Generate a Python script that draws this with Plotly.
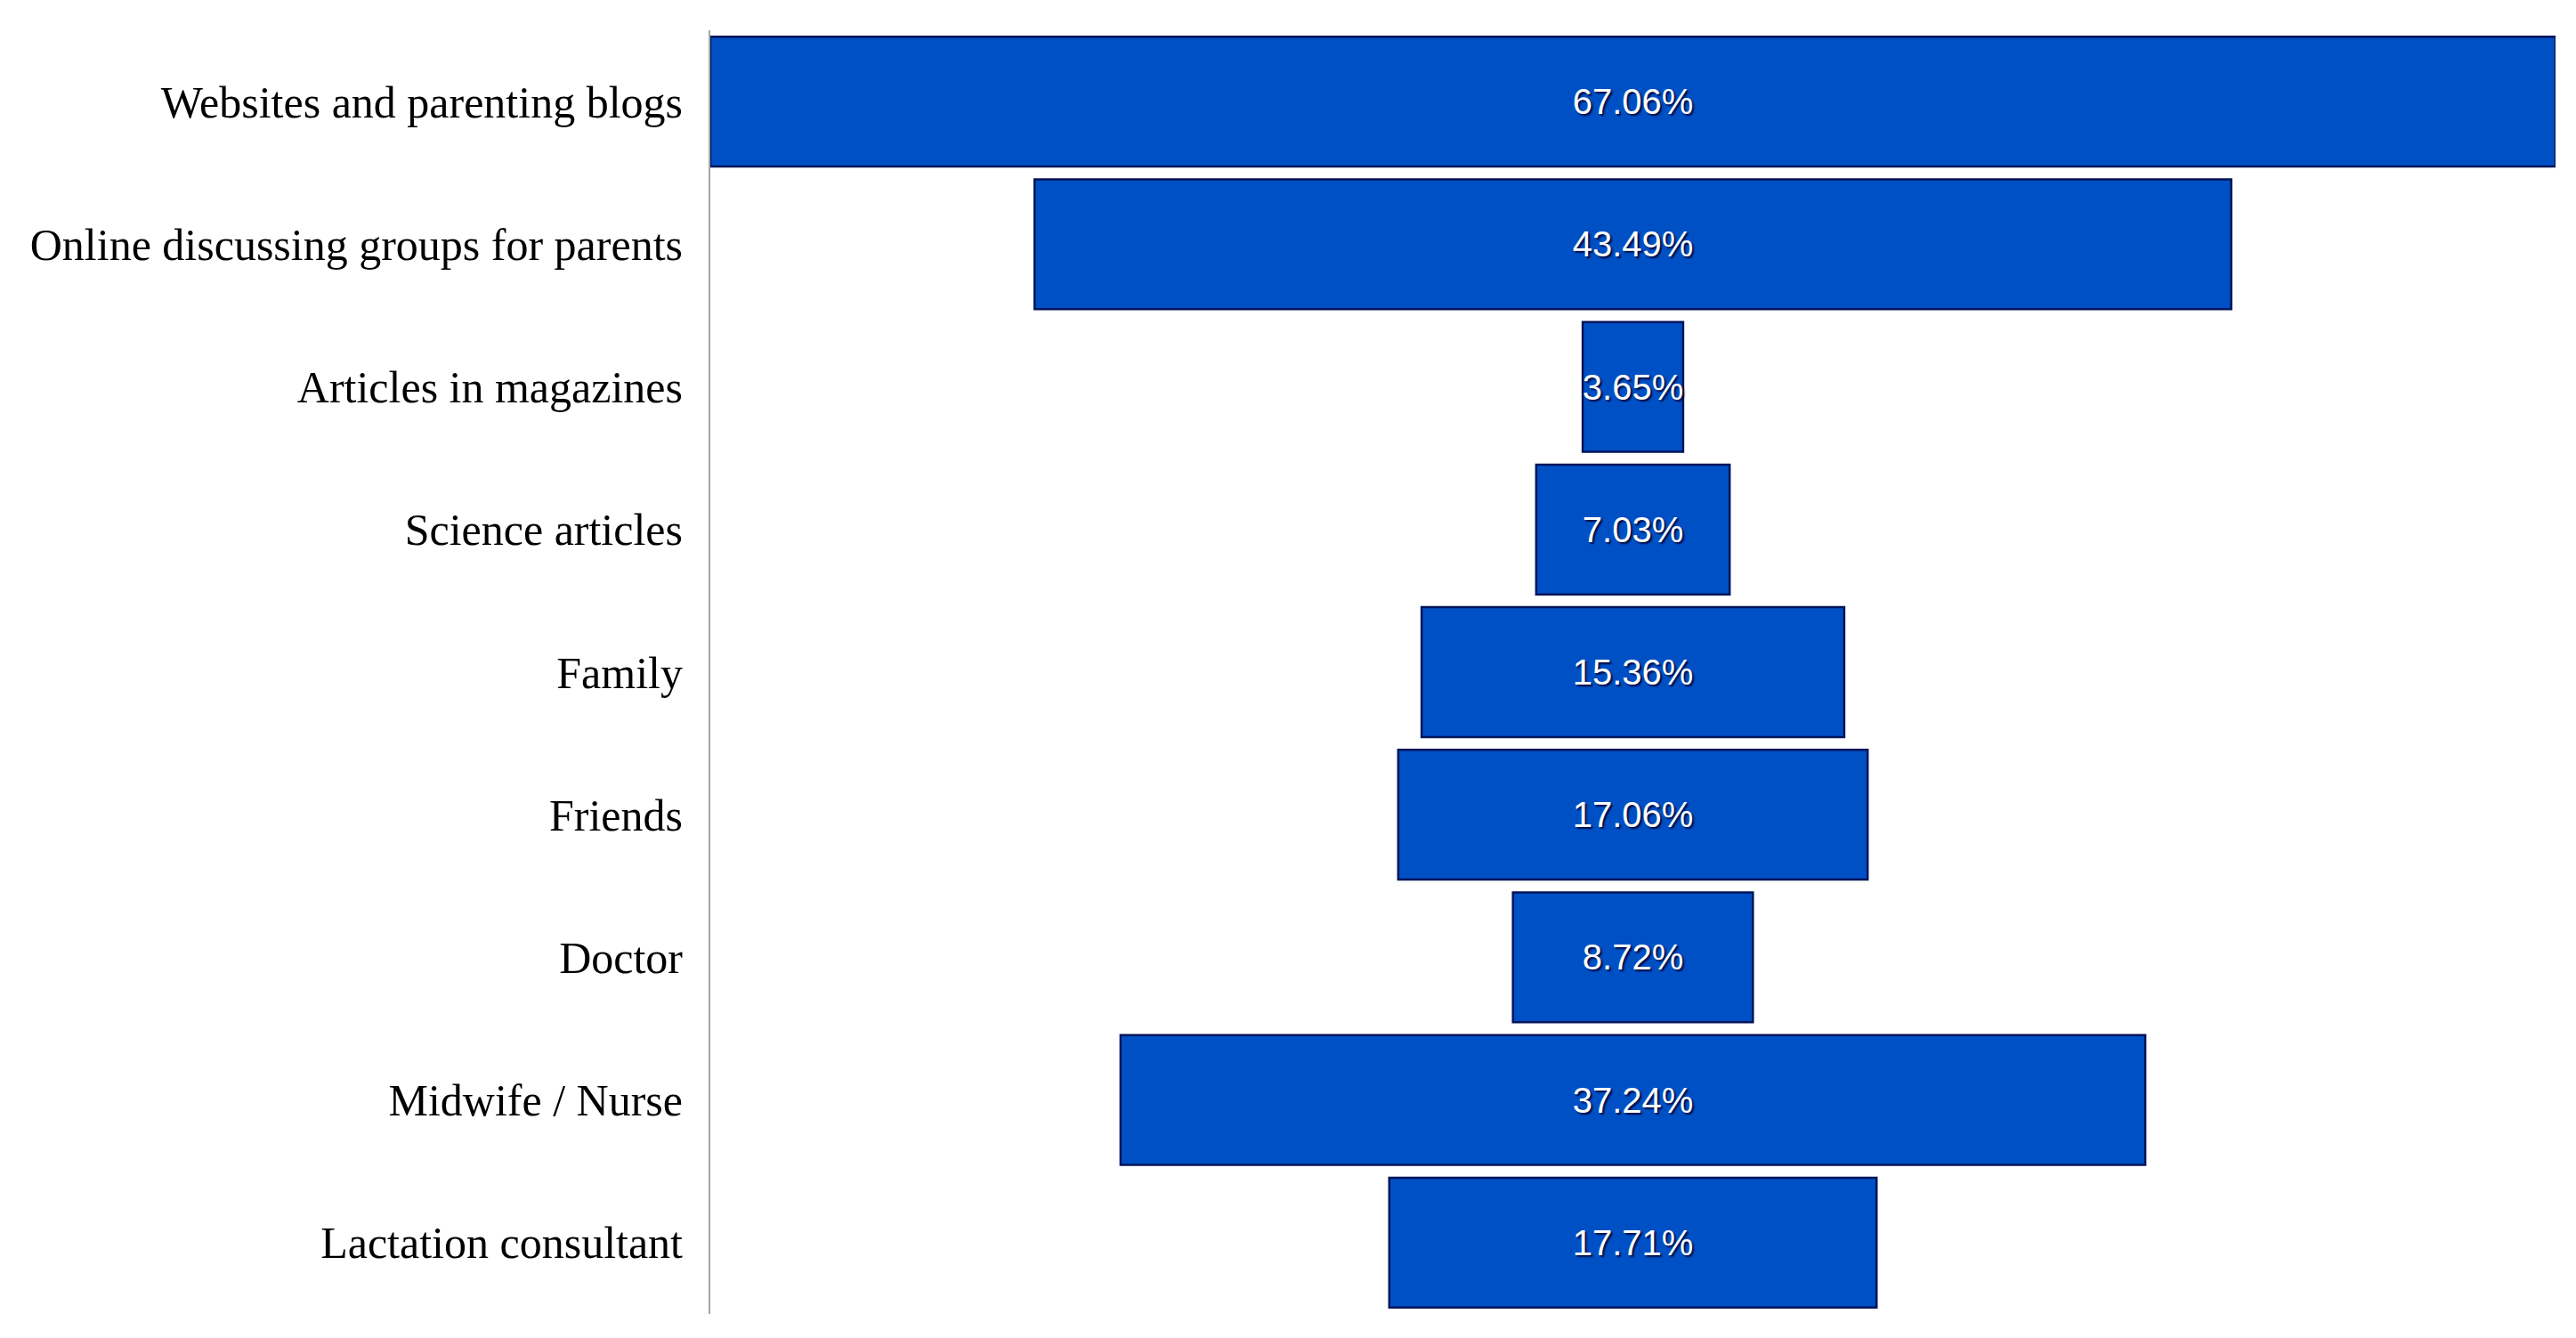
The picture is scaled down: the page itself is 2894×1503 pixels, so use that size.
import plotly.graph_objects as go

# sources of information, top to bottom
sources = [
    "Websites and parenting blogs",
    "Online discussing groups for parents",
    "Articles in magazines",
    "Science articles",
    "Family",
    "Friends",
    "Doctor",
    "Midwife / Nurse",
    "Lactation consultant",
]
shares = [67.06, 43.49, 3.65, 7.03, 15.36, 17.06, 8.72, 37.24, 17.71]
share_labels = [f"{v:.2f}%" for v in shares]

half = max(shares) / 2

fig = go.Figure(
    go.Funnel(
        y=sources,
        x=shares,
        text=share_labels,
        textinfo="text",
        textposition="inside",
        insidetextanchor="middle",
        constraintext="none",
        textfont=dict(
            family="Liberation Sans Narrow, Liberation Sans, sans-serif",
            size=40,
            color="white",
            shadow="2px 2px 2px #000a40",
        ),
        marker=dict(color="#0050c5", line=dict(color="#00145a", width=2.5)),
        connector=dict(visible=False),
        hoverinfo="y+x",
    )
)

fig.update_layout(
    width=2894,
    height=1503,
    margin=dict(l=790, r=31, t=26, b=35),
    paper_bgcolor="white",
    plot_bgcolor="white",
    funnelgap=0.09,
    showlegend=False,
    uniformtext=dict(minsize=40, mode="show"),
    xaxis=dict(visible=False, range=[-half, half]),
    yaxis=dict(
        showline=True,
        linecolor="#a6a6a6",
        linewidth=2,
        ticks="",
        showgrid=False,
        ticklabelstandoff=19,
        tickfont=dict(family="Liberation Serif, DejaVu Serif, serif", size=50, color="black"),
    ),
)

fig.write_html("out.html")
